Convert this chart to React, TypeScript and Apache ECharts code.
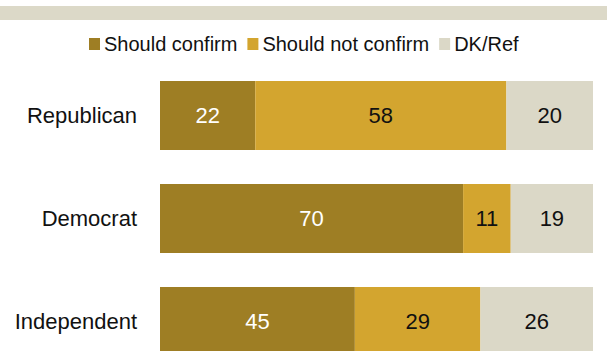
import React, { useEffect, useRef } from "react";
import * as echarts from "echarts";

const categories = ["Republican", "Democrat", "Independent"];
const shouldConfirm = [22, 70, 45];
const shouldNotConfirm = [58, 11, 29];
const dkRef = [20, 19, 26];
const seriesNames = ["Should confirm", "Should not confirm", "DK/Ref"];
const colors = ["#9e7e24", "#d3a52f", "#dbd8c7"];
const labelColors = ["#ffffff", "#111111", "#111111"];

const FONT = "'Liberation Sans', Arial, sans-serif";

export default function App() {
  const ref = useRef<HTMLDivElement>(null);
  useEffect(() => {
    document.body.style.margin = "0";
    document.body.style.overflow = "hidden";
    if (!ref.current) return;
    const chart = echarts.init(ref.current, null, { renderer: "svg" });
    const values = [shouldConfirm, shouldNotConfirm, dkRef];
    chart.setOption({
      animation: false,
      textStyle: { fontFamily: FONT },
      graphic: [
        {
          type: "rect",
          left: 0,
          top: 6,
          shape: { x: 0, y: 0, width: 607, height: 14 },
          style: { fill: "#dcd9c8" },
          silent: true,
        },
      ],
      legend: {
        left: 89,
        top: 34,
        padding: 0,
        itemWidth: 11,
        itemHeight: 12,
        itemGap: 10,
        icon: "rect",
        selectedMode: false,
        data: seriesNames,
        textStyle: { fontSize: 20, color: "#111", fontFamily: FONT, padding: [0, 0, 0, -1] },
      },
      grid: { left: 160, right: 14, top: 64, height: 309, containLabel: false },
      xAxis: { type: "value", min: 0, max: 100, show: false },
      yAxis: {
        type: "category",
        data: categories,
        inverse: true,
        axisLine: { show: false },
        axisTick: { show: false },
        axisLabel: { fontSize: 22, color: "#111", margin: 23, fontFamily: FONT },
      },
      series: seriesNames.map((name, i) => ({
        name,
        type: "bar",
        stack: "total",
        barWidth: 69,
        data: values[i],
        itemStyle: { color: colors[i] },
        label: {
          show: true,
          position: "inside",
          color: labelColors[i],
          fontSize: 22,
          fontFamily: FONT,
        },
      })),
    });
    return () => chart.dispose();
  }, []);
  return <div ref={ref} style={{ width: 607, height: 390 }} />;
}
